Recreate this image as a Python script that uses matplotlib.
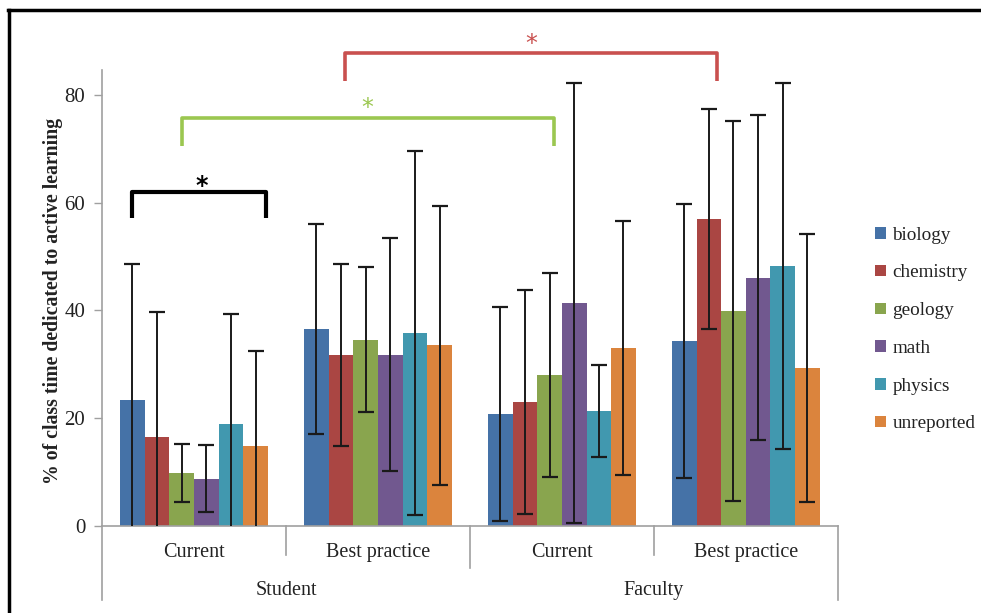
import matplotlib.pyplot as plt
import numpy as np
from matplotlib.lines import Line2D
from matplotlib.patches import Patch

plt.rcParams["font.family"] = ["Liberation Serif", "DejaVu Serif"]

# data
groups = ["Current", "Best practice", "Current", "Best practice"]
outer_groups = ["Student", "Faculty"]
subjects = ["biology", "chemistry", "geology", "math", "physics", "unreported"]
colors = ["#4572A7", "#AA4643", "#89A54E", "#71588F", "#4198AF", "#DB843D"]

# mean % per subject, one value per group (Student current, Student best, Faculty current, Faculty best)
biology = [23.3, 36.6, 20.8, 34.3]
chemistry = [16.6, 31.8, 23.0, 57.0]
geology = [9.9, 34.6, 28.0, 39.9]
math = [8.8, 31.8, 41.4, 46.1]
physics = [18.9, 35.8, 21.3, 48.2]
unreported = [14.8, 33.5, 33.0, 29.3]

# error bar half widths
biology_err = [25.3, 19.5, 19.8, 25.4]
chemistry_err = [23.1, 16.9, 20.8, 20.4]
geology_err = [5.4, 13.4, 18.9, 35.2]
math_err = [6.2, 21.6, 40.8, 30.1]
physics_err = [20.4, 33.8, 8.5, 33.9]
unreported_err = [17.7, 25.9, 23.6, 24.8]

means = [biology, chemistry, geology, math, physics, unreported]
errs = [biology_err, chemistry_err, geology_err, math_err, physics_err, unreported_err]

fig = plt.figure(figsize=(9.81, 6.13), dpi=100)
ax = fig.add_axes([0.104, 0.1419, 0.750, 0.7439])

x = np.arange(len(groups))
w = 0.134
for i in range(len(subjects)):
    pos = x + (i - 2.5) * w
    ax.bar(pos, means[i], width=w, color=colors[i], zorder=2)
    ax.errorbar(pos, means[i], yerr=errs[i], fmt="none", ecolor="#1a1a1a",
                elinewidth=1.4, capsize=5.5, capthick=1.6, zorder=3)

ax.set_xlim(-0.5, 3.5)
ax.set_ylim(0, 84.6)
ax.set_yticks([0, 20, 40, 60, 80])
ax.set_xticks([])
ax.tick_params(axis="y", labelsize=15, length=6, width=1, color="#A0A0A0",
               labelcolor="#222222", pad=6)
for s in ["top", "right"]:
    ax.spines[s].set_visible(False)
for s in ["left", "bottom"]:
    ax.spines[s].set_color("#A0A0A0")
    ax.spines[s].set_linewidth(1.2)

# category axis below the bars
gray = "#A0A0A0"
kw = dict(color=gray, lw=1.2, clip_on=False)
ax.plot([-0.5, -0.5], [0, -13.7], **kw)
ax.plot([3.5, 3.5], [0, -13.7], **kw)
ax.plot([1.5, 1.5], [0, -7.8], **kw)
ax.plot([0.5, 0.5], [0, -5.4], **kw)
ax.plot([2.5, 2.5], [0, -5.4], **kw)
for xi, g in zip(x, groups):
    ax.text(xi, -4.85, g, ha="center", va="center", fontsize=14.5, color="#222222")
for xi, g in zip([0.5, 2.5], outer_groups):
    ax.text(xi, -11.9, g, ha="center", va="center", fontsize=14.5, color="#222222")

fig.text(0.054, 0.509, "% of class time dedicated to active learning", rotation=90,
         ha="center", va="center", fontsize=14.2, fontweight="bold", color="#222222")


# significance brackets
def bracket(x0, x1, ytop, yleg, color, lw, sx, sy, bold=False):
    ax.plot([x0, x0, x1, x1], [yleg, ytop, ytop, yleg], color=color, lw=lw,
            solid_joinstyle="round", solid_capstyle="butt", clip_on=False, zorder=4)
    ax.text(sx, sy, "*", color=color, ha="center", va="center", fontsize=17,
            fontweight="bold" if bold else "normal", family="DejaVu Sans", clip_on=False)


bracket(-0.339, 0.390, 61.9, 57.1, "black", 3.0, 0.042, 63.0, bold=True)
bracket(-0.067, 1.957, 75.7, 70.5, "#9BC750", 2.6, 0.944, 77.6)
bracket(0.821, 2.844, 87.7, 82.5, "#C9504F", 2.6, 1.835, 89.5)

# legend
handles = [Patch(facecolor=c, edgecolor="none") for c in colors]
fig.legend(handles, subjects, loc="center left", bbox_to_anchor=(0.892, 0.4625),
           frameon=False, fontsize=13.8, handlelength=0.55, handleheight=0.55,
           handletextpad=0.35, labelspacing=1.08, borderpad=0, borderaxespad=0,
           labelcolor="#222222")

# outer frame (left and top edges visible)
fig.add_artist(Line2D([8.5 / 981, 8.5 / 981], [0, 1 - 10 / 613], color="black", lw=2.5,
                      transform=fig.transFigure))
fig.add_artist(Line2D([8 / 981, 1], [1 - 10 / 613, 1 - 10 / 613], color="black", lw=2.5,
                      transform=fig.transFigure))

fig.savefig("out.png", dpi=100)
